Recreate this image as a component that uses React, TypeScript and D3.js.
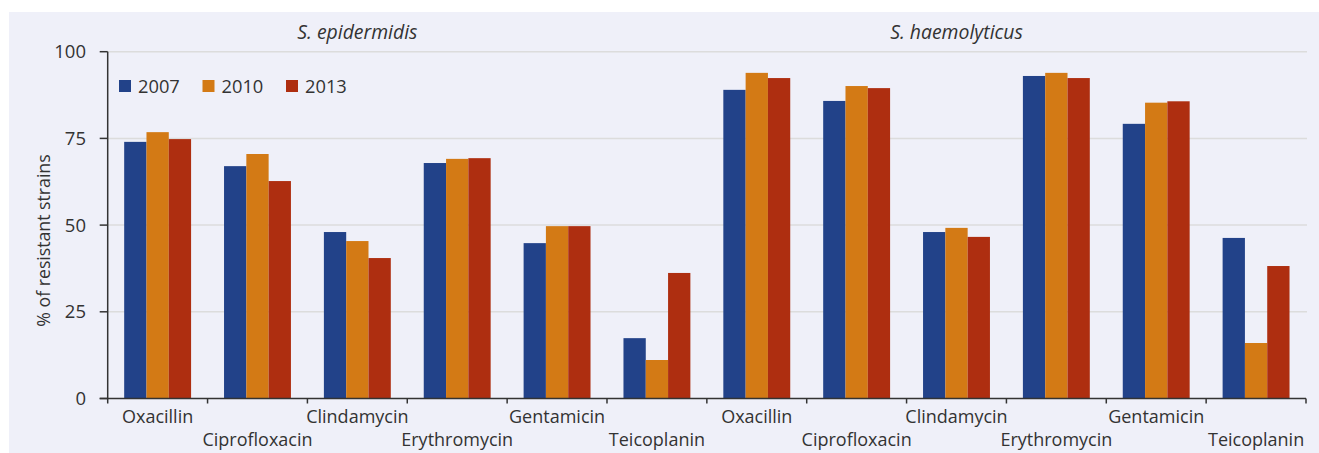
import * as d3 from 'd3';

const categories = [
    'Oxacillin', 'Ciprofloxacin', 'Clindamycin', 'Erythromycin', 'Gentamicin', 'Teicoplanin',
    'Oxacillin', 'Ciprofloxacin', 'Clindamycin', 'Erythromycin', 'Gentamicin', 'Teicoplanin'
];
const years = ['2007', '2010', '2013'];
const values2007 = [74.0, 67.0, 48.0, 67.9, 44.8, 17.4, 89.0, 85.8, 48.0, 93.0, 79.2, 46.3];
const values2010 = [76.8, 70.5, 45.4, 69.1, 49.7, 11.1, 93.9, 90.1, 49.2, 93.9, 85.3, 16.0];
const values2013 = [74.8, 62.7, 40.5, 69.3, 49.7, 36.2, 92.4, 89.5, 46.6, 92.4, 85.7, 38.2];
const yTicks = [0, 25, 50, 75, 100];
const species = ['S. epidermidis', 'S. haemolyticus'];
const colors = ['#224289', '#d37a15', '#ae2e10'];

const W = 1319;
const H = 453;
const margin = { left: 107.7, right: 13, top: 51.7, bottom: 54.5 };
const FONT = '"Open Sans", "DejaVu Sans", sans-serif';
const TEXT = '#333333';

export default function App() {
    const series = [values2007, values2010, values2013];
    const x0 = d3.scaleBand<number>()
        .domain(d3.range(categories.length))
        .range([margin.left, W - margin.right])
        .paddingInner(0.33)
        .paddingOuter(0.165);
    const x1 = d3.scaleBand<string>()
        .domain(years)
        .range([0, x0.bandwidth()]);
    const y = d3.scaleLinear()
        .domain([0, 100])
        .range([H - margin.bottom, margin.top]);

    const step = x0.step();
    const bounds = d3.range(categories.length + 1).map(i => margin.left + i * step);
    const y0 = y(0);

    return (
        <svg width={W} height={H} style={{ position: 'absolute', left: 0, top: 0 }}
            fontFamily={FONT}>
            <rect x={9} y={12} width={W - 9} height={H - 12} fill="#eff0f9" />

            {/* gridlines */}
            {yTicks.filter(t => t > 0).map(t => (
                <line key={t} x1={margin.left} x2={W - margin.right + 1} y1={y(t)} y2={y(t)}
                    stroke="#dcdcdc" strokeWidth={1.5} />
            ))}

            {/* species titles */}
            {species.map((s, i) => (
                <text key={s} x={(x0(i * 6 + 2) ?? 0) + x0.bandwidth() / 2} y={39}
                    textAnchor="middle" fontSize={19.4} fontStyle="italic" fill={TEXT}>{s}</text>
            ))}

            {/* bars */}
            {categories.map((c, i) => (
                <g key={i} transform={`translate(${x0(i)},0)`}>
                    {series.map((vals, k) => (
                        <rect key={k} x={x1(years[k])} width={x1.bandwidth()}
                            y={y(vals[i])} height={y0 - y(vals[i])} fill={colors[k]} />
                    ))}
                </g>
            ))}

            {/* y axis */}
            <line x1={margin.left} x2={margin.left} y1={y(100)} y2={y0} stroke={TEXT} strokeWidth={1.5} />
            {yTicks.map(t => (
                <g key={t}>
                    <line x1={margin.left - 8} x2={margin.left} y1={y(t)} y2={y(t)} stroke={TEXT} strokeWidth={1.5} />
                    <text x={86} y={y(t)} dy="0.36em" textAnchor="end"
                        fontSize={18.5} fill={TEXT}>{t}</text>
                </g>
            ))}
            <text transform="translate(49.5,240.5) rotate(-90)" textAnchor="middle"
                fontSize={17.7} fill={TEXT}>% of resistant strains</text>

            {/* x axis */}
            <line x1={margin.left - 8} x2={W - margin.right} y1={y0} y2={y0} stroke={TEXT} strokeWidth={1.5} />
            {bounds.map((bx, i) => (
                <line key={i} x1={bx} x2={bx} y1={y0} y2={y0 + 5} stroke={TEXT} strokeWidth={1.5} />
            ))}
            {categories.map((c, i) => (
                <text key={i} x={(x0(i) ?? 0) + x0.bandwidth() / 2} y={i % 2 === 0 ? 423 : 446}
                    textAnchor="middle" fontSize={18} fill={TEXT}>{c}</text>
            ))}

            {/* legend */}
            {years.map((yr, k) => (
                <g key={yr} transform={`translate(${119 + k * 83.5},80)`}>
                    <rect width={12} height={12} fill={colors[k]} />
                    <text x={19} y={12.5} fontSize={18.3} fill={TEXT}>{yr}</text>
                </g>
            ))}
        </svg>
    );
}
